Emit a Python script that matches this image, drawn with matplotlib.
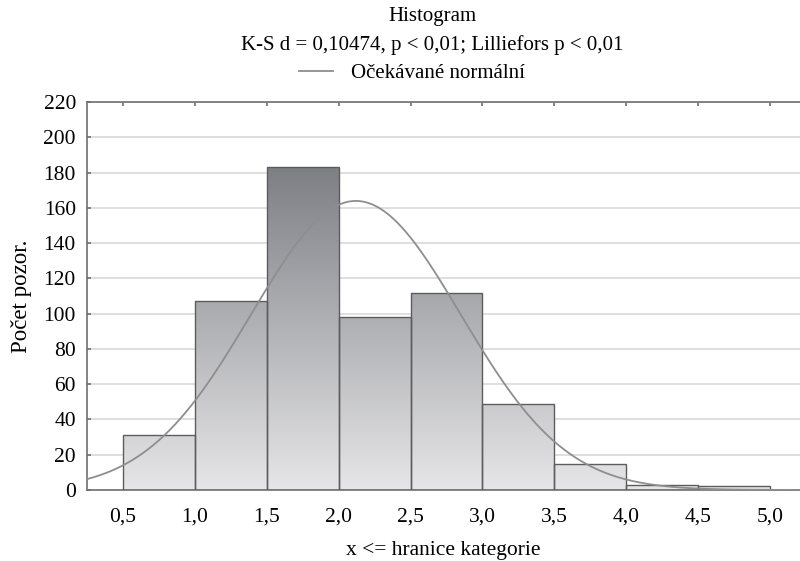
import numpy as np
import matplotlib
matplotlib.use("Agg")
import matplotlib.pyplot as plt
from matplotlib.colors import LinearSegmentedColormap
from matplotlib.path import Path
from matplotlib.patches import PathPatch
from matplotlib.lines import Line2D

plt.rcParams['font.family'] = ['Liberation Serif', 'DejaVu Serif']

# histogram data (upper class limits)
bin_edges = [0.5, 1.0, 1.5, 2.0, 2.5, 3.0, 3.5, 4.0, 4.5, 5.0]
counts = [31, 107, 183, 98, 112, 49, 15, 3, 2]
x_ticks = [0.5, 1.0, 1.5, 2.0, 2.5, 3.0, 3.5, 4.0, 4.5, 5.0]
x_ticklabels = ['0,5', '1,0', '1,5', '2,0', '2,5', '3,0', '3,5', '4,0', '4,5', '5,0']
y_ticks = list(range(0, 221, 20))

# expected normal curve parameters
norm_mean = 2.12
norm_sd = 0.73
n_obs = sum(counts)
bin_w = 0.5

fig = plt.figure(figsize=(8, 5.61), dpi=100)
ax = fig.add_axes([0.10875, 0.1266, 0.8915, 0.6914])

ax.yaxis.grid(True, color='#d9d9d9', linewidth=1.2, zorder=0)
ax.set_axisbelow(True)

lefts = bin_edges[:-1]
bars = ax.bar(lefts, counts, width=bin_w, align='edge', facecolor='none',
              edgecolor='#5c5c5c', linewidth=1.0, zorder=3)

# shared vertical gradient clipped to the bars
paths = [Path([(l, 0), (l + bin_w, 0), (l + bin_w, c), (l, c), (l, 0)],
              [Path.MOVETO, Path.LINETO, Path.LINETO, Path.LINETO, Path.CLOSEPOLY])
         for l, c in zip(lefts, counts)]
clip = PathPatch(Path.make_compound_path(*paths), transform=ax.transData,
                 facecolor='none', edgecolor='none')
ax.add_patch(clip)
cmap = LinearSegmentedColormap.from_list('g', ['#e6e6e8', '#7e7f85'])
grad = np.linspace(0, 1, 256).reshape(-1, 1)
im = ax.imshow(grad, extent=(bin_edges[0], bin_edges[-1], 0, max(counts)),
               origin='lower', cmap=cmap, aspect='auto', zorder=2,
               interpolation='bilinear')
im.set_clip_path(clip)

xs = np.linspace(0.25, 5.21, 400)
ys = n_obs * bin_w / (norm_sd * np.sqrt(2 * np.pi)) * np.exp(-0.5 * ((xs - norm_mean) / norm_sd) ** 2)
ax.plot(xs, ys, color='#8e8e8e', linewidth=1.3, zorder=4)

ax.set_xlim(0.25, 5.21)
ax.set_ylim(0, 220)
ax.set_xticks(x_ticks)
ax.set_xticklabels(x_ticklabels)
ax.set_yticks(y_ticks)

for s in ['left', 'top', 'bottom']:
    ax.spines[s].set_color('#707070')
    ax.spines[s].set_linewidth(1.2)
ax.spines['right'].set_visible(False)

ax.tick_params(axis='x', which='both', bottom=False, top=True, direction='in',
               length=3, width=1.2, color='#707070', labelsize=15.5, pad=13)
ax.tick_params(axis='y', direction='in', length=3, width=1.2, color='#707070',
               labelsize=15.5, pad=8)

ax.set_xlabel('x <= hranice kategorie', fontsize=15.5, labelpad=10)
ax.set_ylabel('Počet pozor.', fontsize=16.5, labelpad=8)

fig.text(0.54, 1 - 17 / 561, 'Histogram', ha='center', va='center', fontsize=15)
fig.text(0.54, 1 - 45 / 561, 'K-S d = 0,10474, p < 0,01; Lilliefors p < 0,01',
         ha='center', va='center', fontsize=15)
h = Line2D([], [], color='#8e8e8e', linewidth=1.3)
fig.legend([h], ['Očekávané normální'], loc='center', bbox_to_anchor=(0.515, 1 - 73 / 561),
           frameon=False, fontsize=15, handlelength=1.6, handletextpad=0.85)

fig.savefig('out.png', dpi=100)
